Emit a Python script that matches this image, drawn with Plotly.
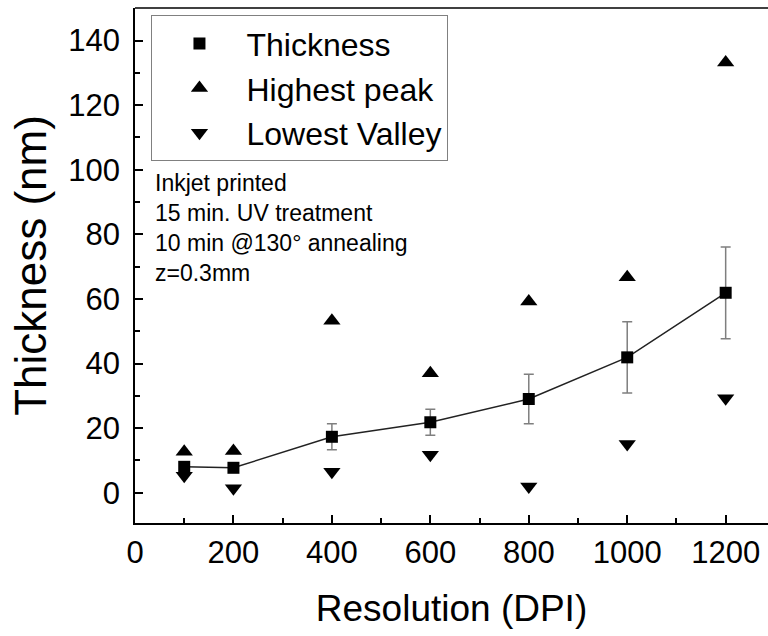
import plotly.graph_objects as go

dpi = [100, 200, 400, 600, 800, 1000, 1200]
thickness = [8.0, 7.7, 17.3, 21.8, 29.0, 41.9, 61.9]
thickness_err = [1.0, 1.0, 4.0, 4.0, 7.7, 11.0, 14.2]
highest_peak = [12.7, 12.9, 53.2, 37.0, 59.2, 66.7, 133.2]
lowest_valley = [5.2, 1.4, 6.5, 11.7, 1.9, 15.1, 29.2]

annotation_lines = ["Inkjet printed", "15 min. UV treatment",
                    "10 min @130° annealing", "z=0.3mm"]

FONT = "Liberation Sans, Arial, sans-serif"

fig = go.Figure()
fig.add_trace(go.Scatter(
    x=dpi, y=thickness, mode="lines", showlegend=False, hoverinfo="skip",
    line=dict(color="#222222", width=1.5),
))
fig.add_trace(go.Scatter(
    x=dpi, y=thickness, name="Thickness", mode="markers",
    marker=dict(symbol="square", size=12, color="black"),
    error_y=dict(type="data", array=thickness_err, visible=True,
                 color="#7f7f7f", thickness=1.5, width=5),
))
fig.add_trace(go.Scatter(
    x=dpi, y=highest_peak, name="Highest peak", mode="markers",
    marker=dict(symbol="triangle-up", size=15, color="black"),
))
fig.add_trace(go.Scatter(
    x=dpi, y=lowest_valley, name="Lowest Valley", mode="markers",
    marker=dict(symbol="triangle-down", size=15, color="black"),
))

fig.add_annotation(
    xref="paper", yref="paper", x=0.028, y=0.69, xanchor="left", yanchor="top",
    text="<br>".join(annotation_lines), showarrow=False, align="left",
    font=dict(family=FONT, size=23, color="black"),
)

fig.add_shape(type="line", xref="paper", yref="paper", x0=0, x1=1, y0=1, y1=1,
              line=dict(color="black", width=1.5))

fig.update_layout(
    width=768, height=636,
    margin=dict(l=135, r=0, t=8, b=113),
    paper_bgcolor="white", plot_bgcolor="white",
    font=dict(family=FONT, color="black"),
    showlegend=True,
    legend=dict(
        x=0.026, y=0.986, xanchor="left", yanchor="top",
        bordercolor="#808080", borderwidth=1, bgcolor="white",
        font=dict(family=FONT, size=32, color="black"),
        itemwidth=84,
    ),
    xaxis=dict(
        range=[0, 1286], tick0=0, dtick=200, ticks="inside", ticklen=8,
        tickwidth=1.5, tickcolor="black", showline=True, linecolor="black",
        linewidth=1.5, showgrid=False, zeroline=False,
        tickfont=dict(family=FONT, size=31, color="black"),
        ticklabelstandoff=1,
        minor=dict(ticks="inside", ticklen=5, dtick=100, tickcolor="black",
                   tickwidth=1.5, showgrid=False),
        title=dict(text="Resolution (DPI)", standoff=26,
                   font=dict(family=FONT, size=37, color="black")),
    ),
    yaxis=dict(
        range=[-9.4, 150.1], tick0=0, dtick=20, ticks="inside", ticklen=8,
        tickwidth=1.5, tickcolor="black", showline=True, linecolor="black",
        linewidth=1.5, showgrid=False, zeroline=False,
        tickfont=dict(family=FONT, size=31, color="black"),
        ticklabelstandoff=7,
        minor=dict(ticks="inside", ticklen=5, dtick=10, tickcolor="black",
                   tickwidth=1.5, showgrid=False),
        title=dict(text="Thickness (nm)", standoff=8,
                   font=dict(family=FONT, size=44, color="black")),
    ),
)

fig.write_html("out.html")
